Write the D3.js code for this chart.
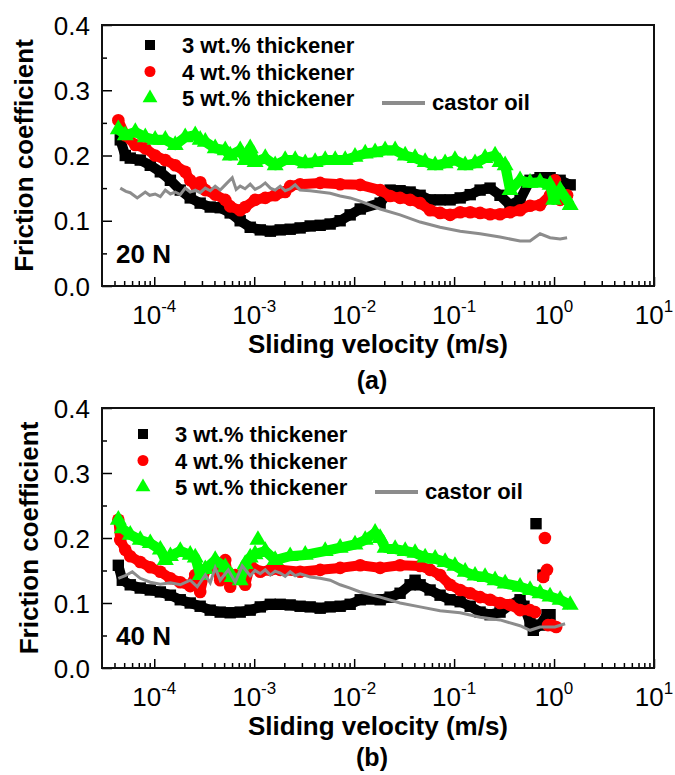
<!DOCTYPE html>
<html>
<head>
<meta charset="utf-8">
<script src="https://cdn.jsdelivr.net/npm/d3@7"></script>
<style>
  body { margin: 0; background: #fff; }
  text { font-family: "Liberation Sans", Arial, sans-serif; }
</style>
</head>
<body>
<svg width="675" height="775"></svg>
<script>
// velocity (m/s), friction coefficient
// panel (a) 20 N
const a3 = [[4.57e-5,.224],[5.13e-5,.20],[5.75e-5,.196],[7.24e-5,.193],[9.12e-5,.185],[1.15e-4,.175],[1.45e-4,.162],[1.82e-4,.147],[2.29e-4,.135],[2.88e-4,.127],[3.63e-4,.121],[4.57e-4,.12],[5.75e-4,.112],[7.24e-4,.10],[9.12e-4,.09],[1.15e-3,.086],[1.45e-3,.084],[1.82e-3,.086],[2.29e-3,.087],[2.88e-3,.089],[3.63e-3,.092],[4.57e-3,.093],[5.75e-3,.095],[7.24e-3,.10],[9.12e-3,.109],[1.15e-2,.118],[1.82e-2,.127],[2.29e-2,.147],[2.88e-2,.146],[3.63e-2,.144],[4.57e-2,.139],[5.75e-2,.132],[7.24e-2,.132],[9.12e-2,.132],[0.115,.135],[0.145,.14],[0.182,.147],[0.229,.15],[0.288,.139],[0.363,.124],[0.457,.132],[0.575,.162],[0.724,.166],[0.912,.166],[1.15,.162],[1.45,.155]];
const a4 = [[4.37e-5,.254],[5.13e-5,.231],[6.46e-5,.216],[8.13e-5,.211],[1.02e-4,.2],[1.29e-4,.193],[1.62e-4,.185],[2.04e-4,.175],[2.29e-4,.162],[2.57e-4,.155],[2.88e-4,.159],[3.24e-4,.147],[4.07e-4,.14],[5.13e-4,.132],[5.75e-4,.122],[7.24e-4,.116],[8.13e-4,.121],[1.02e-3,.132],[1.29e-3,.135],[1.62e-3,.139],[2.04e-3,.144],[2.29e-3,.153],[2.88e-3,.156],[4.57e-3,.158],[7.24e-3,.156],[1.15e-2,.155],[1.82e-2,.147],[2.29e-2,.138],[2.88e-2,.135],[3.63e-2,.132],[4.57e-2,.127],[5.75e-2,.116],[7.24e-2,.112],[9.12e-2,.109],[0.115,.113],[0.145,.113],[0.182,.112],[0.229,.11],[0.288,.11],[0.363,.113],[0.457,.116],[0.575,.123],[0.724,.124],[0.912,.139],[1.02,.162],[1.15,.132],[1.35,.139]];
const a5 = [[4.37e-5,.24],[5.13e-5,.231],[6.46e-5,.236],[8.13e-5,.228],[1.02e-4,.224],[1.29e-4,.224],[1.62e-4,.216],[2.04e-4,.228],[2.57e-4,.231],[2.88e-4,.224],[3.24e-4,.221],[4.07e-4,.211],[5.13e-4,.208],[5.75e-4,.2],[7.24e-4,.208],[8.13e-4,.193],[9.12e-4,.211],[1.02e-3,.19],[1.29e-3,.196],[1.62e-3,.185],[2.04e-3,.193],[2.57e-3,.193],[3.24e-3,.188],[4.07e-3,.19],[5.13e-3,.193],[6.46e-3,.193],[8.13e-3,.193],[1.02e-2,.198],[1.29e-2,.203],[1.62e-2,.205],[2.04e-2,.208],[2.57e-2,.208],[3.24e-2,.2],[4.07e-2,.196],[5.13e-2,.19],[6.46e-2,.185],[8.13e-2,.188],[0.102,.193],[0.129,.185],[0.162,.188],[0.204,.196],[0.257,.2],[0.288,.19],[0.324,.185],[0.363,.147],[0.457,.162],[0.575,.158],[0.724,.159],[0.912,.155],[0.99,.132],[1.15,.147],[1.45,.124]];
const aOil = [[4.57e-5,.15],[5.2e-5,.145],[5.75e-5,.143],[6.76e-5,.135],[8.13e-5,.144],[9e-5,.139],[1.02e-4,.141],[1.15e-4,.137],[1.29e-4,.147],[1.45e-4,.141],[1.62e-4,.144],[1.82e-4,.14],[2.04e-4,.15],[2.29e-4,.144],[2.57e-4,.147],[2.88e-4,.143],[3.24e-4,.15],[3.63e-4,.146],[4.07e-4,.153],[4.57e-4,.147],[5.13e-4,.155],[6.03e-4,.166],[6.6e-4,.148],[7.24e-4,.153],[8.1e-4,.149],[9.12e-4,.156],[1.02e-3,.148],[1.15e-3,.152],[1.29e-3,.158],[1.45e-3,.15],[1.62e-3,.147],[1.82e-3,.153],[2.04e-3,.146],[2.29e-3,.149],[2.57e-3,.155],[2.88e-3,.147],[3.63e-3,.146],[4.57e-3,.144],[5.75e-3,.142],[7.24e-3,.138],[9.12e-3,.135],[1.15e-2,.13],[1.82e-2,.118],[2.88e-2,.109],[4.57e-2,.098],[7.24e-2,.09],[0.115,.084],[0.182,.08],[0.288,.075],[0.457,.069],[0.575,.069],[0.724,.08],[0.912,.074],[1.15,.072],[1.35,.074]];

// panel (b) 40 N
const b3 = [[4.37e-5,.158],[4.79e-5,.135],[5.75e-5,.128],[7.24e-5,.123],[9.12e-5,.12],[1.15e-4,.117],[1.45e-4,.112],[1.82e-4,.105],[2.29e-4,.1],[2.88e-4,.095],[3.63e-4,.089],[4.57e-4,.086],[5.75e-4,.085],[7.24e-4,.086],[9.12e-4,.089],[1.15e-3,.094],[1.45e-3,.098],[1.82e-3,.098],[2.29e-3,.097],[2.88e-3,.095],[3.63e-3,.094],[4.57e-3,.092],[5.75e-3,.094],[7.24e-3,.095],[9.12e-3,.098],[1.15e-2,.105],[1.82e-2,.105],[2.29e-2,.109],[2.88e-2,.115],[3.63e-2,.128],[4.07e-2,.135],[4.57e-2,.128],[5.75e-2,.12],[7.24e-2,.112],[9.12e-2,.105],[0.115,.102],[0.145,.095],[0.182,.086],[0.229,.082],[0.288,.086],[0.363,.097],[0.457,.105],[0.5,.095],[0.575,.07],[0.62,.058],[0.724,.066],[0.85,.082],[0.912,.082]];
const b4 = [[4.37e-5,.228],[4.57e-5,.197],[5.13e-5,.182],[5.75e-5,.172],[7.24e-5,.163],[9.12e-5,.155],[1.15e-4,.148],[1.45e-4,.138],[1.82e-4,.132],[2.29e-4,.126],[2.57e-4,.143],[2.88e-4,.117],[3.24e-4,.151],[4.07e-4,.158],[4.57e-4,.135],[5.13e-4,.166],[5.75e-4,.125],[6.46e-4,.143],[8.13e-4,.128],[9.12e-4,.158],[1.15e-3,.148],[1.45e-3,.151],[1.82e-3,.151],[2.88e-3,.148],[4.57e-3,.151],[7.24e-3,.154],[1.15e-2,.158],[1.82e-2,.154],[2.88e-2,.158],[4.57e-2,.157],[5.75e-2,.151],[7.24e-2,.143],[9.12e-2,.128],[0.115,.12],[0.145,.115],[0.182,.109],[0.229,.105],[0.288,.1],[0.363,.097],[0.457,.089],[0.575,.089],[0.646,.086]];
const b5 = [[4.37e-5,.228],[4.79e-5,.215],[5.75e-5,.205],[7.24e-5,.197],[9.12e-5,.192],[1.15e-4,.182],[1.29e-4,.166],[1.45e-4,.172],[1.82e-4,.18],[2.29e-4,.174],[2.57e-4,.17],[2.88e-4,.143],[3.24e-4,.152],[4.07e-4,.166],[5.13e-4,.155],[6.03e-4,.14],[7.24e-4,.135],[8.13e-4,.16],[9.12e-4,.17],[1.02e-3,.175],[1.29e-3,.18],[1.62e-3,.166],[2.29e-3,.172],[3.24e-3,.174],[5.13e-3,.18],[7.24e-3,.185],[1.02e-2,.19],[1.29e-2,.197],[1.62e-2,.208],[1.82e-2,.2],[2.04e-2,.185],[2.57e-2,.183],[3.24e-2,.18],[4.07e-2,.177],[5.13e-2,.17],[6.46e-2,.168],[8.13e-2,.163],[0.102,.157],[0.129,.148],[0.162,.142],[0.204,.14],[0.257,.135],[0.324,.13],[0.457,.125],[0.575,.12],[0.724,.115],[0.912,.11],[1.15,.105],[1.45,.097]];
const bOil = [[4.37e-5,.138],[5.13e-5,.142],[6.03e-5,.148],[7.24e-5,.138],[9.12e-5,.132],[1.15e-4,.129],[1.45e-4,.131],[1.82e-4,.128],[2.29e-4,.135],[2.69e-4,.125],[3.24e-4,.143],[3.63e-4,.131],[4.07e-4,.154],[4.57e-4,.135],[5.5e-4,.151],[6.46e-4,.132],[7.59e-4,.157],[9.12e-4,.142],[1.02e-3,.15],[1.15e-3,.145],[1.29e-3,.151],[1.45e-3,.143],[1.62e-3,.149],[1.82e-3,.146],[2.04e-3,.141],[2.29e-3,.148],[2.57e-3,.142],[2.88e-3,.145],[3.63e-3,.14],[4.57e-3,.138],[5.75e-3,.135],[7.24e-3,.128],[9.12e-3,.123],[1.15e-2,.117],[1.82e-2,.109],[2.88e-2,.1],[4.57e-2,.094],[7.24e-2,.088],[0.115,.085],[0.182,.078],[0.288,.074],[0.457,.065],[0.575,.058],[0.724,.063],[1.02,.063],[1.29,.068]];
// stray points (markers only)
const b3Stray = [[0.66,.222],[0.776,.143]];
const b4Stray = [[0.81,.2],[0.85,.151],[0.78,.14],[0.87,.066],[0.95,.066],[1.05,.063]];
const b5Stray = [[1.09e-3,.197]];

const seriesNames = ['3 wt.% thickener', '4 wt.% thickener', '5 wt.% thickener', 'castor oil'];
const seriesColors = ['#000000', '#ff0000', '#00ff00', '#8c8c8c'];
const yTicks = [0, 0.1, 0.2, 0.3, 0.4];
const yMinor = [0.05, 0.15, 0.25, 0.35];
const xExp = [-4, -3, -2, -1, 0, 1];

const svg = d3.select('svg');
const x = d3.scaleLog().domain([3e-5, 10]).range([102, 654]);

const xMinor = [];
d3.range(-5, 1).forEach(e => d3.range(2, 10).forEach(m => {
  const v = m * Math.pow(10, e);
  if (v > 3.05e-5 && v < 10) xMinor.push(v);
}));

const sym = [d3.symbolSquare, d3.symbolCircle, d3.symbolTriangle];
const symSize = [130, 125, 125];
const legSize = [100, 95, 95];

function drawPanel(p) {
  const y = d3.scaleLinear().domain([0, 0.4]).range([p.bottom, p.top]);
  const g = svg.append('g');

  // series: dense marker bands
  p.series.forEach((data, i) => {
    g.append('path')
      .datum(data)
      .attr('fill', 'none')
      .attr('stroke', seriesColors[i])
      .attr('stroke-width', 10)
      .attr('stroke-linejoin', 'round')
      .attr('d', d3.line().x(d => x(d[0])).y(d => y(d[1])));
    const pts = data.concat(p.stray[i] || []);
    g.selectAll(null).data(pts).enter()
      .append('path')
      .attr('fill', seriesColors[i])
      .attr('transform', d => `translate(${x(d[0])},${y(d[1])})`)
      .attr('d', d3.symbol().type(sym[i]).size(symSize[i]));
  });
  g.append('path')
    .datum(p.oil)
    .attr('fill', 'none')
    .attr('stroke', seriesColors[3])
    .attr('stroke-width', 3)
    .attr('d', d3.line().x(d => x(d[0])).y(d => y(d[1])));

  // axes (ticks inside)
  const ax = svg.append('g');
  ax.append('g').attr('transform', `translate(0,${p.bottom})`)
    .call(d3.axisBottom(x).tickValues(xExp.map(e => Math.pow(10, e))).tickSize(-9).tickFormat(''));
  ax.append('g').attr('transform', `translate(0,${p.bottom})`)
    .call(d3.axisBottom(x).tickValues(xMinor).tickSize(-5).tickFormat(''));
  ax.append('g').attr('transform', 'translate(102,0)')
    .call(d3.axisLeft(y).tickValues(yTicks).tickSize(-10).tickFormat(''));
  ax.append('g').attr('transform', 'translate(102,0)')
    .call(d3.axisLeft(y).tickValues(yMinor).tickSize(-5).tickFormat(''));
  ax.selectAll('.domain').remove();
  ax.selectAll('line').attr('stroke', '#000').attr('stroke-width', 1.5);

  svg.append('rect')
    .attr('x', 102).attr('y', p.top)
    .attr('width', 552).attr('height', p.bottom - p.top)
    .attr('fill', 'none').attr('stroke', '#111').attr('stroke-width', 2);

  // tick labels
  svg.append('g').selectAll('text').data(yTicks).enter()
    .append('text')
    .attr('x', 90).attr('y', d => y(d) + 9.5)
    .attr('text-anchor', 'end')
    .attr('font-size', 26)
    .text(d => d.toFixed(1));

  const xl = svg.append('g').selectAll('text').data(xExp).enter()
    .append('text')
    .attr('x', d => x(Math.pow(10, d)))
    .attr('y', p.bottom + 38)
    .attr('text-anchor', 'middle')
    .attr('font-size', 26);
  xl.append('tspan').text('10');
  xl.append('tspan').attr('dy', -12).attr('font-size', 17).text(d => d);

  // titles
  svg.append('text')
    .attr('x', 378).attr('y', p.bottom + 67)
    .attr('text-anchor', 'middle')
    .attr('font-size', 26).attr('font-weight', 'bold')
    .text('Sliding velocity (m/s)');
  svg.append('text')
    .attr('transform', `translate(${p.ylabX},${(p.top + p.bottom) / 2}) rotate(-90)`)
    .attr('text-anchor', 'middle')
    .attr('font-size', 26).attr('font-weight', 'bold')
    .text('Friction coefficient');
  svg.append('text')
    .attr('x', 372).attr('y', p.capY)
    .attr('text-anchor', 'middle')
    .attr('font-size', 25).attr('font-weight', 'bold')
    .text(p.caption);
  svg.append('text')
    .attr('x', 116).attr('y', p.bottom - 23)
    .attr('font-size', 26).attr('font-weight', 'bold')
    .text(p.load);

  // legend
  const lg = svg.append('g');
  [0, 1, 2].forEach(i => {
    const ly = p.legY + i * 26.5;
    lg.append('path')
      .attr('fill', seriesColors[i])
      .attr('transform', `translate(${p.legX},${ly})`)
      .attr('d', d3.symbol().type(sym[i]).size(legSize[i]));
    lg.append('text')
      .attr('x', p.legX + 32).attr('y', ly + 8)
      .attr('font-size', 22).attr('font-weight', 'bold')
      .text(seriesNames[i]);
  });
  const oy = p.legY + 2 * 26.5 + 5;
  lg.append('line')
    .attr('x1', p.legX + 232).attr('x2', p.legX + 275)
    .attr('y1', oy).attr('y2', oy)
    .attr('stroke', seriesColors[3]).attr('stroke-width', 4);
  lg.append('text')
    .attr('x', p.legX + 282).attr('y', oy + 7)
    .attr('font-size', 22).attr('font-weight', 'bold')
    .text(seriesNames[3]);
}

drawPanel({ top: 25, bottom: 286, series: [a3, a4, a5], oil: aOil, stray: [],
  caption: '(a)', capY: 389, load: '20 N', ylabX: 33, legX: 150, legY: 45 });
drawPanel({ top: 408, bottom: 668, series: [b3, b4, b5], oil: bOil, stray: [b3Stray, b4Stray, b5Stray],
  caption: '(b)', capY: 766, load: '40 N', ylabX: 38, legX: 143, legY: 434 });
</script>
</body>
</html>
